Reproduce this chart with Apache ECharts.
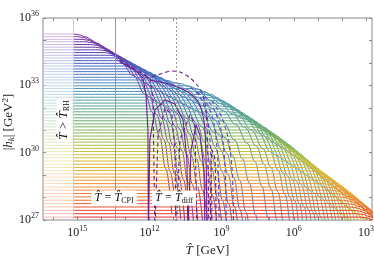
<!DOCTYPE html>
<html><head><meta charset="utf-8">
<script src="https://cdn.jsdelivr.net/npm/echarts@6/dist/echarts.min.js"></script>
<style>html,body{margin:0;padding:0;background:#fff}#c{width:374px;height:260px}</style>
</head><body><div id="c"></div>
<script>
// ---- axis ranges / ticks (log10 units) ----
const logTmax = 16.42, logTmin = 2.75;
const xTicks = [3,4,5,6,7,8,9,10,11,12,13,14,15,16];
const xLabels = [3,6,9,12,15];
const yLabels = [27,30,33,36];
// ---- reference temperatures (log10 GeV) ----
const T_RH = 15.17, T_CPI = 13.42, T_DIFF = 10.865;
// ---- flat (super-horizon) amplitude of each mode, log10 |h_k| ----
const levels = [35.29,35.17,35.05,34.94,34.82,34.70,34.58,34.46,34.34,34.22,34.10,33.98,33.86,33.73,33.61,33.49,33.36,33.24,33.11,32.98,32.86,32.73,32.60,32.47,32.34,32.21,32.08,31.95,31.82,31.69,31.55,31.42,31.28,31.15,31.01,30.88,30.74,30.60,30.47,30.33,30.19,30.05,29.91,29.77,29.63,29.48,29.34,29.20,29.05,28.91,28.77,28.62,28.47,28.33,28.18,28.03,27.88,27.73,27.58,27.43,27.28,27.13];
// ---- temperature where each mode starts to fall, log10 GeV ----
const bendLogT = [15.17,14.99,14.80,14.63,14.44,14.25,14.06,13.85,13.64,13.44,13.23,13.02,12.81,12.56,12.32,12.09,11.84,11.44,10.92,10.54,10.26,9.96,9.75,9.56,9.37,9.18,8.99,8.80,8.63,8.45,8.25,8.08,7.89,7.73,7.57,7.43,7.27,7.12,6.97,6.82,6.65,6.49,6.31,6.13,5.95,5.76,5.58,5.41,5.23,5.07,4.92,4.75,4.58,4.43,4.26,4.09,3.94,3.79,3.65,3.50,3.35,3.21];
// ---- common fall-off shape after the bend (decades in T, decades in h) ----
const profU = [0, 0.25, 0.5, 1.0, 1.5, 2.0, 2.5, 3.0, 3.3, 3.6, 3.85, 4.1];
const profD = [0, -0.04, -0.13, -0.42, -0.8, -1.25, -1.85, -2.7, -3.5, -4.6, -6, -8];
// ---- special (purple) modes, [log10 T, log10 |h|] ----
const purpleS1 = [[13.22,34.04],[12.6,33.68],[12.27,33.33],[12.14,32.57],[12.06,31.0],[12.04,26.5],[12.02,26.5],[11.98,30.56],[11.77,31.9],[11.35,32.35],[10.94,32.17],[10.6,31.45],[10.44,29.67],[10.40,26.5],[10.35,26.5],[10.27,30.12],[10.06,31.23],[9.9,30.79],[9.73,29.23],[9.69,26.5]];
const purpleD1 = [[13.22,34.13],[12.39,33.59],[11.98,33.33],[11.85,32.35],[11.77,26.5],[11.73,26.5],[11.64,30.79],[11.35,31.99],[11.06,31.68],[10.94,30.12],[10.89,26.5],[10.85,26.5],[10.73,30.56],[10.31,31.68],[10.11,31.23],[10.02,26.5]];
const purpleD2 = [[12.18,33.33],[11.77,33.42],[11.43,33.55],[11.06,33.64],[10.73,33.59],[10.31,33.33],[9.98,32.97],[9.77,32.57],[9.65,31.9],[9.57,30.12],[9.52,26.5],[9.48,26.5],[9.40,30.12],[9.27,29.67],[9.23,26.5]];
const purpleS2 = [[11.98,33.24],[11.35,33.10],[10.73,32.88],[10.23,32.57],[9.9,32.12],[9.69,31.01],[9.61,26.5]];
const blueD = [
  [[10.3,32.9],[9.9,32.5],[9.6,31.6],[9.45,30],[9.4,26.5]],
  [[10.0,32.7],[9.6,32.2],[9.3,31.2],[9.15,29.5],[9.1,26.5]],
  [[9.7,32.5],[9.3,31.9],[9.0,30.9],[8.85,29.2],[8.8,26.5]],
  [[9.4,32.3],[9.0,31.6],[8.7,30.5],[8.55,29],[8.5,26.5]]
];
// ---- colour map (top mode -> bottom mode) ----
const cmap = [[0,'#7a2a9c'],[0.1,'#5a3aae'],[0.2,'#4062c8'],[0.3,'#4688c0'],[0.4,'#4d9e9e'],[0.5,'#62a86e'],[0.6,'#98b84a'],[0.68,'#c8c03c'],[0.76,'#e6b236'],[0.84,'#ee9030'],[0.92,'#ec6530'],[1,'#de2a26']];

function hex2rgb(h){return [parseInt(h.substr(1,2),16),parseInt(h.substr(3,2),16),parseInt(h.substr(5,2),16)];}
function rgbStr(c){return 'rgb('+c.map(v=>Math.round(v)).join(',')+')';}
function cmapAt(t){
  for(let i=0;i<cmap.length-1;i++){
    if(t<=cmap[i+1][0]){
      const f=(t-cmap[i][0])/(cmap[i+1][0]-cmap[i][0]);
      const a=hex2rgb(cmap[i][1]), b=hex2rgb(cmap[i+1][1]);
      return a.map((v,j)=>v+(b[j]-v)*f);
    }
  }
  return hex2rgb(cmap[cmap.length-1][1]);
}
const chart = echarts.init(document.getElementById('c'), null, {renderer:'canvas', width:374, height:260});
const W=374, gridL=43, gridR=2, gridT=18, gridB=40;
const xRH = gridL + (logTmax - T_RH)/(logTmax-logTmin)*(W-gridL-gridR);
const FONT = 'Liberation Serif';

const series = [];
series.push({type:'line', data:[], silent:true, z:1,
  markLine:{symbol:'none', silent:true, animation:false, label:{show:false},
    data:[
      {xAxis:T_RH, lineStyle:{color:'#d0d0d0', type:'solid', width:1}},
      {xAxis:T_CPI, lineStyle:{color:'#9a9a9a', type:'solid', width:1}},
      {xAxis:T_DIFF, lineStyle:{color:'#9a9a9a', type:[2,2], width:1}}
    ]}});
levels.forEach((L,k)=>{
  const c = cmapAt(k/(levels.length-1));
  const faded = c.map(v=>v*0.35+255*0.65);
  const pts = [[logTmax, L]];
  for(let j=0;j<profU.length;j++) pts.push([bendLogT[k]-profU[j], L+profD[j]]);
  const off = xRH/W;
  series.push({type:'line', data:pts, symbol:'none', smooth:0.4, smoothMonotone:'x', z:2,
    lineStyle:{width:1, color:{type:'linear', x:0, y:0, x2:W, y2:0, global:true,
      colorStops:[{offset:0,color:rgbStr(faded)},{offset:off,color:rgbStr(faded)},{offset:off+0.0001,color:rgbStr(c)},{offset:1,color:rgbStr(c)}]}}});
});
blueD.forEach(d=>series.push({type:'line', data:d, symbol:'none', smooth:0.3, z:3, lineStyle:{width:1.1, color:'#5646c4', type:[4,3]}}));
series.push({type:'line', data:purpleS1, symbol:'none', z:4, lineStyle:{width:1.1, color:'#6a1f8e'}});
series.push({type:'line', data:purpleS2, symbol:'none', smooth:0.3, z:4, lineStyle:{width:1.1, color:'#6a1f8e'}});
series.push({type:'line', data:purpleD1, symbol:'none', z:4, lineStyle:{width:1.1, color:'#6a1f8e', type:[4,3]}});
series.push({type:'line', data:purpleD2, symbol:'none', smooth:0.3, z:4, lineStyle:{width:1.1, color:'#6a1f8e', type:[4,3]}});

const rich = {b:{fontFamily:FONT, fontSize:12, color:'#222'}, s:{fontFamily:FONT, fontSize:8, color:'#222', padding:[0,0,8,0]}};
const tickStyle = {color:'#888', width:1};
const option = {
  animation:false,
  grid:{left:gridL, right:gridR, top:gridT, bottom:gridB, show:true, borderColor:'#888', borderWidth:1, containLabel:false, outerBoundsMode:'none'},
  xAxis:[
    {type:'value', inverse:true, min:logTmin, max:logTmax, position:'bottom',
     axisLine:{show:false}, splitLine:{show:false},
     axisTick:{show:true, inside:true, length:3, customValues:xTicks, lineStyle:tickStyle},
     axisLabel:{customValues:xLabels, margin:5, formatter:v=>'{b|10}{s|'+v+'}', rich:rich},
     name:'{i|T\u0302} {r|[GeV]}', nameLocation:'middle', nameGap:19,
     nameTextStyle:{rich:{i:{fontFamily:FONT, fontStyle:'italic', fontSize:13, color:'#222'}, r:{fontFamily:FONT, fontSize:13, color:'#222'}}}},
    {type:'value', inverse:true, min:logTmin, max:logTmax, position:'top',
     axisLine:{show:false}, splitLine:{show:false},
     axisTick:{show:true, inside:true, length:3, customValues:xTicks, lineStyle:tickStyle},
     axisLabel:{show:false}}
  ],
  yAxis:[
    {type:'value', min:27, max:36, interval:1, position:'left',
     axisLine:{show:false}, splitLine:{show:false},
     axisTick:{show:true, inside:true, length:3, lineStyle:tickStyle},
     axisLabel:{margin:4, formatter:v=>yLabels.indexOf(v)>=0?'{b|10}{s|'+v+'}':'', rich:rich}},
    {type:'value', min:27, max:36, interval:1, position:'right',
     axisLine:{show:false}, splitLine:{show:false},
     axisTick:{show:true, inside:true, length:3, lineStyle:tickStyle},
     axisLabel:{show:false}}
  ],
  series: series,
  graphic:[
    {type:'text', x:9, y:122, rotation:Math.PI/2, z:100,
     style:{text:'{r||}{i|h}{k|k}{r|| [GeV}{s|2}{r|]}', align:'center', verticalAlign:'middle',
       rich:{i:{fontFamily:FONT, fontStyle:'italic', fontSize:13, fill:'#222'}, r:{fontFamily:FONT, fontSize:13, fill:'#222'}, k:{fontFamily:FONT, fontStyle:'italic', fontSize:9, fill:'#222', padding:[5,0,0,0]}, s:{fontFamily:FONT, fontSize:9, fill:'#222', padding:[0,0,7,0]}}}},
    {type:'text', x:64, y:120, rotation:Math.PI/2, z:100,
     style:{text:'{i|T\u0302} {r|>} {i|T\u0302}{sub|RH}', align:'center', verticalAlign:'middle', backgroundColor:'#fff', padding:[1,2],
       rich:{i:{fontFamily:FONT, fontStyle:'italic', fontSize:13, fill:'#111'}, r:{fontFamily:FONT, fontSize:13, fill:'#111'}, sub:{fontFamily:FONT, fontSize:8, fill:'#111', padding:[5,0,0,0]}}}},
    {type:'text', x:114, y:198, z:100,
     style:{text:'{i|T\u0302} {r|=} {i|T\u0302}{sub|CPI}', align:'center', verticalAlign:'middle', backgroundColor:'#fff', padding:[1,3],
       rich:{i:{fontFamily:FONT, fontStyle:'italic', fontSize:12, fill:'#111'}, r:{fontFamily:FONT, fontSize:12, fill:'#111'}, sub:{fontFamily:FONT, fontSize:8, fill:'#111', padding:[5,0,0,0]}}}},
    {type:'text', x:174, y:198, z:100,
     style:{text:'{i|T\u0302} {r|=} {i|T\u0302}{sub|diff}', align:'center', verticalAlign:'middle', backgroundColor:'#fff', padding:[1,3],
       rich:{i:{fontFamily:FONT, fontStyle:'italic', fontSize:12, fill:'#111'}, r:{fontFamily:FONT, fontSize:12, fill:'#111'}, sub:{fontFamily:FONT, fontSize:8, fill:'#111', padding:[5,0,0,0]}}}}
  ]
};
chart.setOption(option);
</script></body></html>
